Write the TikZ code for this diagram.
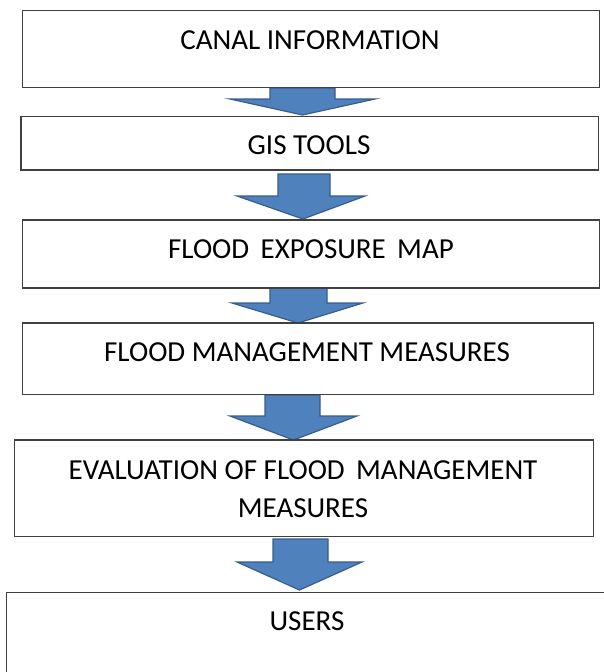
\documentclass[tikz,border=0pt]{standalone}
\usepackage{fontspec}
\setmainfont{Carlito}
\definecolor{arrowfill}{HTML}{4F81BD}
\definecolor{arrowedge}{HTML}{385D8A}
\definecolor{boxedge}{HTML}{404040}
\begin{document}
\begin{tikzpicture}[x=1pt,y=-1pt,
  stagebox/.style={draw=boxedge, line width=1.3pt, fill=white, inner sep=0pt},
  stagetext/.style={font=\fontsize{29}{38}\selectfont, text=black, inner sep=0pt, align=center},
  flowarrow/.style={fill=arrowfill, draw=arrowedge, line width=1.2pt, line join=miter}]
\useasboundingbox (0,0) rectangle (604,672);
\clip (0,0) rectangle (604,672);
\fill[white] (0,0) rectangle (604,672);

% block arrows (drawn first so the box edges sit on top)
\draw[flowarrow] (270,88) -- (335,88) -- (335,99) -- (375,99) -- (302.5,115) -- (230,99) -- (270,99) -- cycle;
\draw[flowarrow] (278,174) -- (330,174) -- (330,196) -- (365,196) -- (303,219) -- (237,196) -- (278,196) -- cycle;
\draw[flowarrow] (270,288) -- (327,288) -- (327,303) -- (363,303) -- (298,323) -- (232,303) -- (270,303) -- cycle;
\draw[flowarrow] (265,395) -- (320,395) -- (320,416) -- (357,416) -- (293.5,440) -- (230,416) -- (265,416) -- cycle;
\draw[flowarrow] (273,539) -- (328,539) -- (328,562) -- (362,562) -- (299.5,590) -- (237,562) -- (273,562) -- cycle;

% stage boxes
\draw[stagebox] (22.7,10.7) rectangle (599.7,87.7);
\draw[stagebox] (21,116.7) rectangle (598.3,170);
\draw[stagebox] (22.7,220) rectangle (599.7,288);
\draw[boxedge, line width=2.4pt] (22.7,288) -- (599.7,288);
\draw[stagebox] (22.7,323) rectangle (593.3,394.3);
\draw[stagebox] (14.7,440) rectangle (593.3,536.7);
\draw[stagebox] (6.7,592.7) rectangle (620,690);

% stage labels
\node[stagetext] (t1) at (310,40) {CANAL INFORMATION};
\node[stagetext] (t2) at (309,145) {GIS TOOLS};
\node[stagetext] (t3) at (311,249) {FLOOD\, EXPOSURE\, MAP};
\node[stagetext] (t4) at (307,352) {FLOOD MANAGEMENT MEASURES};
\node[stagetext] (t5) at (303,489) {EVALUATION OF FLOOD\, MANAGEMENT\\MEASURES};
\node[stagetext] (t6) at (307,621) {USERS};
\end{tikzpicture}
\end{document}
